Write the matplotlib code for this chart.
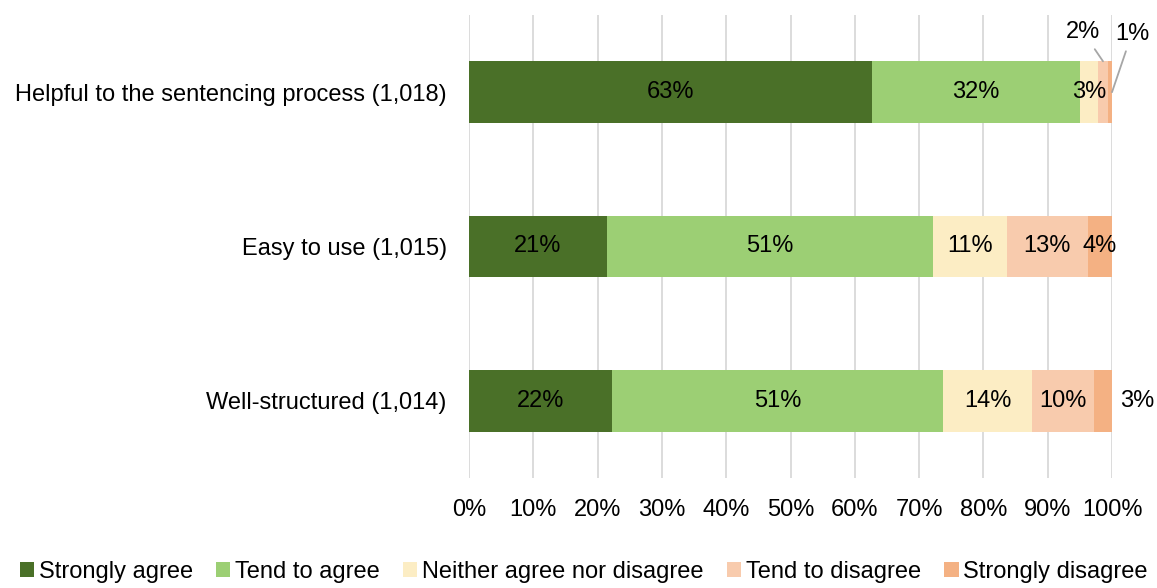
import matplotlib.pyplot as plt
import numpy as np

plt.rcParams['font.family'] = ['Liberation Sans', 'DejaVu Sans']

questions = ["Helpful to the sentencing process (1,018)",
             "Easy to use (1,015)",
             "Well-structured (1,014)"]
responses = ["Strongly agree", "Tend to agree", "Neither agree nor disagree",
             "Tend to disagree", "Strongly disagree"]
colors = ["#4A7028", "#9CCF74", "#FCEDC4", "#F8CBAD", "#F4B183"]

strongly_agree = [62.7, 21.4, 22.3]
tend_agree = [32.3, 50.8, 51.4]
neither = [2.8, 11.4, 13.9]
tend_disagree = [1.6, 12.7, 9.6]
strongly_disagree = [0.6, 3.7, 2.8]
series = [strongly_agree, tend_agree, neither, tend_disagree, strongly_disagree]

FS = 17

fig = plt.figure(figsize=(11.57, 5.88), dpi=100)
ax = fig.add_axes([469 / 1157, 1 - 478 / 588, (1112 - 469) / 1157, (478 - 15) / 588])

y = np.arange(len(questions))
left = np.zeros(len(questions))
for name, vals, col in zip(responses, series, colors):
    vals = np.array(vals)
    ax.barh(y, vals, left=left, height=0.4, color=col, label=name, zorder=2)
    for i, v in enumerate(vals):
        cx = left[i] + v / 2
        txt = f"{round(v):d}%"
        # small segments get labels outside the bar
        if i == 0 and name in ("Tend to disagree", "Strongly disagree"):
            continue
        if i == 2 and name == "Strongly disagree":
            ax.text(103.9, i, txt, ha='center', va='center', fontsize=FS)
            continue
        ax.text(cx, i, txt, ha='center', va='center', fontsize=FS)
    left += vals

# leader lines for the thin slices of the first bar
td_mid = strongly_agree[0] + tend_agree[0] + neither[0] + tend_disagree[0] / 2
ax.annotate(f"{round(tend_disagree[0]):d}%", xy=(td_mid, -0.2), xytext=(95.5, -0.39),
            ha='center', va='center', fontsize=FS,
            arrowprops=dict(arrowstyle='-', color='#A6A6A6', lw=1.3, shrinkA=3, shrinkB=0))
ax.annotate(f"{round(strongly_disagree[0]):d}%", xy=(100, 0.0), xytext=(103.1, -0.38),
            ha='center', va='center', fontsize=FS,
            arrowprops=dict(arrowstyle='-', color='#A6A6A6', lw=1.3, shrinkA=3, shrinkB=0))

ax.set_xlim(0, 100)
ax.set_ylim(2.5, -0.5)
ax.set_yticks(y)
ax.set_yticklabels(questions, fontsize=FS)
ax.set_xticks(np.arange(0, 101, 10))
ax.set_xticklabels([f"{t}%" for t in range(0, 101, 10)], fontsize=FS)
ax.tick_params(axis='y', length=0, pad=16)
ax.tick_params(axis='x', length=0, pad=15)
ax.grid(axis='x', color='#D9D9D9', lw=1.3, zorder=0)
for s in ax.spines.values():
    s.set_visible(False)

fig.legend(loc='lower left', bbox_to_anchor=(0.009, -0.008), ncol=5, frameon=False,
           fontsize=FS, handlelength=0.6, handleheight=0.6, handletextpad=0.2,
           columnspacing=0.99, borderaxespad=0)

fig.savefig("out.png", dpi=100)
